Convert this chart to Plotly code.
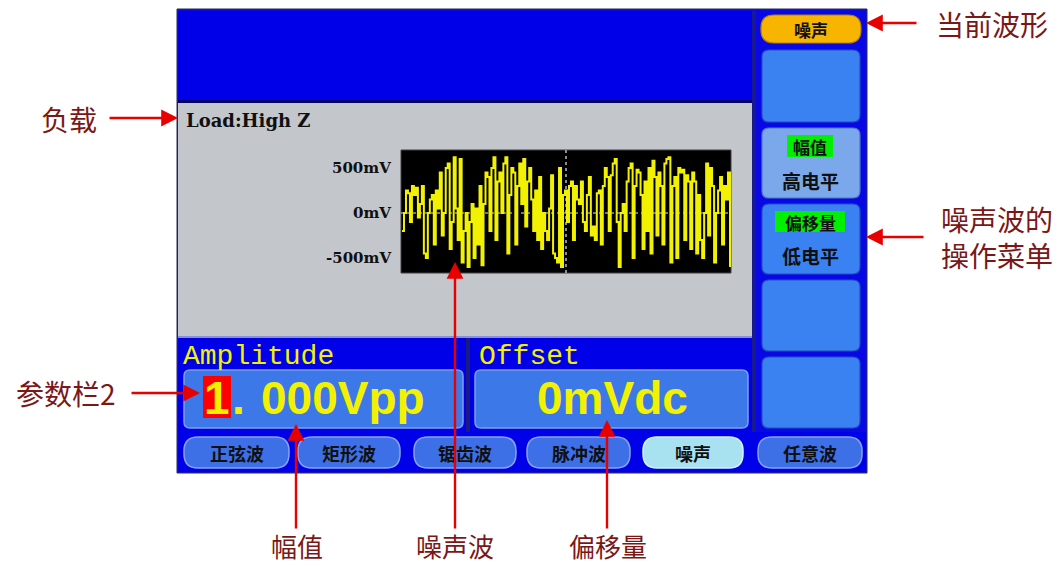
import plotly.graph_objects as go

# ---------------- data ----------------
noise_mv = [
    -0.2, 0.0, 0.25, 0.22, -0.1, 0.3, 0.2, 0.28, -0.05, 0.1, 0.3, -0.45, -0.5, 0.0, 0.15, 0.2, -0.35, 0.25, 0.05, 0.45,
    -0.25, 0.0, 0.5, 0.55, -0.4, -0.1, 0.62, 0.05, -0.3, 0.6,
    -0.55, -0.2, 0.0, -0.6, -0.1, 0.1, -0.5, 0.05, -0.35, 0.3, -0.58, 0.1, 0.45, 0.4, -0.2, 0.5, 0.62, -0.3, 0.35, 0.45,
    0.0, 0.55, 0.62, -0.45, 0.2, 0.5, 0.45, -0.35, 0.3, 0.55,
    0.1, 0.6, -0.15, 0.35, 0.5, 0.15, -0.2, 0.25, -0.3, 0.4, -0.4, 0.0, -0.2, -0.3, 0.05, 0.42, -0.45, -0.5, -0.55, 0.5,
    -0.6, 0.2, 0.25, -0.1, 0.3, 0.35, -0.3, 0.3, 0.15, 0.1,
    0.35, -0.1, -0.2, 0.2, 0.4, -0.25, -0.15, -0.3, 0.22, 0.25, -0.35, 0.3, 0.5, 0.4, -0.2, 0.42, 0.55, 0.6, -0.1, -0.6,
    0.0, 0.1, -0.2, 0.35, 0.5, 0.55, -0.5, 0.3, 0.48, 0.45,
    0.2, -0.4, 0.35, -0.2, 0.5, -0.45, 0.58, 0.4, -0.25, 0.45, 0.3, -0.35, 0.55, 0.6, 0.62, -0.55, 0.3, 0.4, -0.5, 0.5,
    0.45, 0.48, -0.3, 0.42, 0.35, -0.4, 0.45, 0.35, -0.45, 0.2,
    -0.3, -0.5, 0.0, 0.55, -0.25, 0.5, 0.3, -0.55, 0.0, 0.25, 0.4, -0.35, 0.3, 0.15, 0.45, -0.6,
]
y_tick_vals = [0.5, 0.0, -0.5]
y_tick_text = ["500mV", "0mV", "-500mV"]
tab_labels = ["正弦波", "矩形波", "锯齿波", "脉冲波", "噪声", "任意波"]
selected_tab = "噪声"
current_wave = "噪声"
menu_top = ["幅值", "偏移量"]
menu_bottom = ["高电平", "低电平"]
load_text = "Load:High Z"
param_names = ["Amplitude", "Offset"]
amp_digit = "1"
amp_rest = "000Vpp"
offset_value = "0mVdc"
callouts_left = ["负载", "参数栏2"]
callouts_right = ["当前波形", "噪声波的<br>操作菜单"]
callouts_bottom = ["幅值", "噪声波", "偏移量"]

W, H = 1062, 566
RED = "#E80000"
LABEL = "#7A1818"
YEL = "#F2F200"
CJK = "Noto Sans CJK SC"
BIG = "Liberation Sans"


def rr(x0, y0, x1, y1, r):
    return (f"M{x0+r},{y0} L{x1-r},{y0} Q{x1},{y0} {x1},{y0+r} L{x1},{y1-r} "
            f"Q{x1},{y1} {x1-r},{y1} L{x0+r},{y1} Q{x0},{y1} {x0},{y1-r} "
            f"L{x0},{y0+r} Q{x0},{y0} {x0+r},{y0} Z")


shapes = []


def rect(x0, y0, x1, y1, fill, line=None, lw=0):
    shapes.append(dict(type="rect", xref="x", yref="y", x0=x0, y0=y0, x1=x1, y1=y1,
                       fillcolor=fill, line=dict(color=line or fill, width=lw), layer="below"))


def rbox(x0, y0, x1, y1, r, fill, line, lw=1.2):
    shapes.append(dict(type="path", xref="x", yref="y", path=rr(x0, y0, x1, y1, r),
                       fillcolor=fill, line=dict(color=line, width=lw), layer="below"))


# screen frame
rect(177, 9, 867, 473, "#0A0ADC", "#2A2A60", 1)
rect(178, 11, 752, 100, "#0000E8")
rect(178, 100, 752, 103, "#00006A")
rect(178, 103, 752, 336, "#C3C6CB")
rect(178, 336, 752, 338, "#8890D8")
rect(178, 338, 752, 432, "#0000E8")
rect(466, 338, 470, 432, "#1A1A80")
rect(178, 432, 866, 472, "#0000E8")
rect(752, 11, 756, 432, "#1A1A90")
rect(756, 11, 866, 432, "#0808E4")

# waveform box
rect(401, 150, 731, 273, "#000000", "#404040", 1)

# right menu buttons
rbox(761, 15, 861, 43, 13, "#F8B500", "#B88000", 1.2)
rbox(762, 50, 860, 122, 7, "#3A82F2", "#2250C0", 1.2)
rbox(762, 128, 860, 198, 7, "#7AA8EA", "#4F78C8", 1.2)
rbox(762, 204, 860, 274, 7, "#3A82F2", "#2250C0", 1.2)
rbox(762, 280, 860, 351, 7, "#3A82F2", "#2250C0", 1.2)
rbox(762, 357, 860, 428, 7, "#3A82F2", "#2250C0", 1.2)
rect(787, 135, 833, 157, "#00F000")
rect(775, 211, 845, 232, "#00F000")

# parameter boxes
rbox(184, 370, 463, 428, 6, "#3C78E8", "#7CA0F2", 1.5)
rbox(475, 370, 748, 428, 6, "#3C78E8", "#7CA0F2", 1.5)
rect(203, 376, 231, 418, "#FF0000")

# tabs
tab_x = [(184, 289), (298, 400), (414, 516), (527, 630), (643, 743), (758, 862)]
for (a, b), lab in zip(tab_x, tab_labels):
    if lab == selected_tab:
        rbox(a, 437, b, 468, 14, "#A8E2F0", "#D0F4FA", 1.5)
    else:
        rbox(a, 437, b, 468, 14, "#3D6FE6", "#86A4F2", 1.5)

# waveform dashed center lines (in waveform axes)
for shp in [dict(x0=-0.5, x1=len(noise_mv) - 0.5, y0=0, y1=0),
            dict(x0=(len(noise_mv) - 1) / 2, x1=(len(noise_mv) - 1) / 2, y0=-0.667, y1=0.70)]:
    shapes.append(dict(type="line", xref="x2", yref="y2", line=dict(color="#E8E8E8", width=1.2, dash="dot"),
                       layer="below", **shp))

fig = go.Figure()
fig.add_trace(go.Scatter(x=list(range(len(noise_mv))), y=noise_mv, mode="lines",
                         line=dict(color=YEL, width=2, shape="hv"), xaxis="x2", yaxis="y2",
                         hoverinfo="skip", showlegend=False))

ann = []


def txt(x, y, s, size, color, family, xanchor="center", yanchor="middle"):
    ann.append(dict(x=x, y=y, xref="x", yref="y", text=s, showarrow=False,
                    font=dict(size=size, color=color, family=family),
                    xanchor=xanchor, yanchor=yanchor))


def arrow(x0, y0, x1, y1):
    ann.append(dict(x=x1, y=y1, ax=x0, ay=y0, xref="x", yref="y", axref="x", ayref="y",
                    text="", showarrow=True, arrowhead=2, arrowsize=1.4, arrowwidth=2.4,
                    arrowcolor=RED, standoff=0, startstandoff=0))


# screen texts
txt(184, 120, f"<b>{load_text}</b>", 18, "#101010", "DejaVu Serif", "left")
for v, t, yy in zip(y_tick_vals, y_tick_text, [168, 213, 258]):
    txt(393, yy, f"<b>{t}</b>", 15, "#101010", "DejaVu Serif", "right")
txt(181, 356, param_names[0], 28, YEL, "Liberation Mono", "left")
txt(477, 356, param_names[1], 28, YEL, "Liberation Mono", "left")
txt(217, 398, f"<b>{amp_digit}</b>", 46, YEL, BIG, "center")
txt(238, 398, "<b>.</b>", 46, YEL, BIG, "center")
txt(259, 398, f"<b>{amp_rest}</b>", 46, YEL, BIG, "left")
txt(612, 398, f"<b>{offset_value}</b>", 46, YEL, BIG, "center")

txt(811, 29, f"<b>{current_wave}</b>", 17, "#101010", CJK)
txt(810, 146, f"<b>{menu_top[0]}</b>", 17, "#101010", CJK)
txt(810, 180, f"<b>{menu_bottom[0]}</b>", 19, "#101010", CJK)
txt(810, 222, f"<b>{menu_top[1]}</b>", 17, "#101010", CJK)
txt(810, 255, f"<b>{menu_bottom[1]}</b>", 19, "#101010", CJK)
for (a, b), lab in zip(tab_x, tab_labels):
    txt((a + b) / 2, 453, f"<b>{lab}</b>", 18, "#101010", CJK)

# callouts
txt(69, 119, callouts_left[0], 28, LABEL, CJK)
txt(66, 393, callouts_left[1], 28, LABEL, CJK)
txt(992, 24, callouts_right[0], 28, LABEL, CJK)
txt(997, 237, callouts_right[1], 28, LABEL, CJK)
for xx, lab in zip([297, 455, 608], callouts_bottom):
    txt(xx, 545, lab, 26, LABEL, CJK)

arrow(108, 118, 178, 118)
arrow(130, 393, 200, 393)
arrow(918, 23, 866, 23)
arrow(925, 237, 866, 237)
arrow(296, 530, 296, 424)
arrow(455, 530, 455, 262)
arrow(607, 530, 607, 420)

fig.update_layout(
    width=W, height=H, autosize=False,
    margin=dict(l=0, r=0, t=0, b=0, pad=0),
    paper_bgcolor="white", plot_bgcolor="rgba(0,0,0,0)",
    xaxis=dict(range=[0, W], domain=[0, 1], visible=False, fixedrange=True),
    yaxis=dict(range=[H, 0], domain=[0, 1], visible=False, fixedrange=True),
    xaxis2=dict(range=[-0.5, len(noise_mv) - 0.5], domain=[401 / W, 731 / W], anchor="y2",
                visible=False, fixedrange=True),
    yaxis2=dict(range=[-0.667, 0.70], domain=[1 - 273 / H, 1 - 150 / H], anchor="x2",
                visible=False, fixedrange=True),
    shapes=shapes, annotations=ann, showlegend=False,
)
fig.write_html("out.html", config={"displayModeBar": False},
               post_script="document.body.style.margin='0px';document.body.style.padding='0px';")
